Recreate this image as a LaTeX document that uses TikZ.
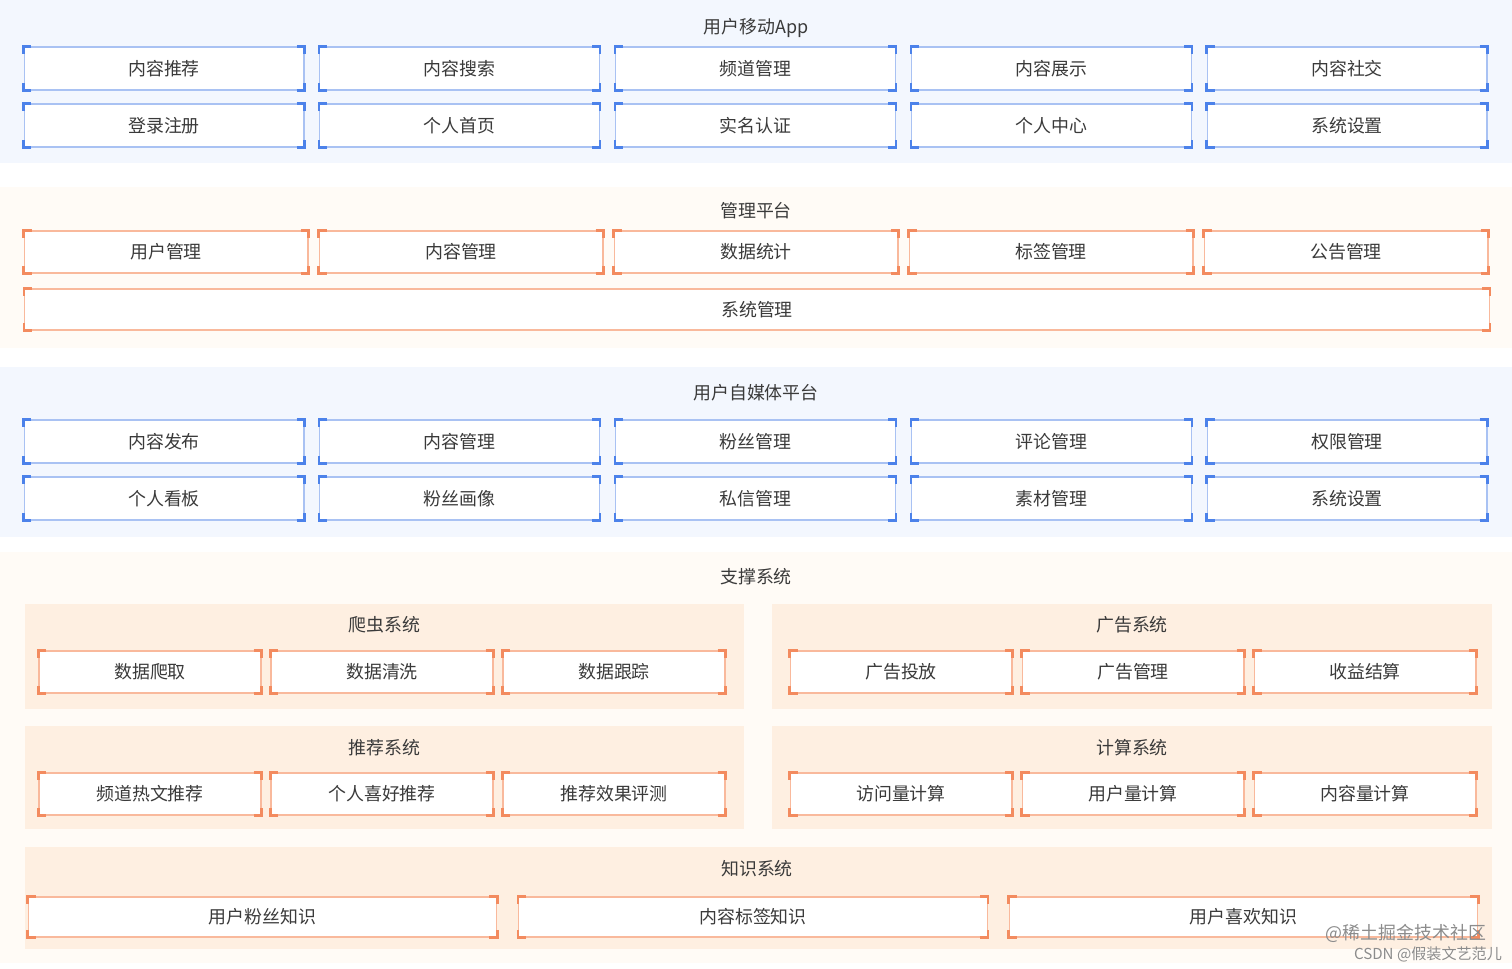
\documentclass[tikz,border=0pt]{standalone}
\usepackage{fontspec}
\setmainfont{Noto Sans CJK SC}
\usetikzlibrary{calc}

\definecolor{blaabg}{HTML}{F3F7FE}
\definecolor{kremebg}{HTML}{FFFBF6}
\definecolor{panelbg}{HTML}{FEEFE1}
\definecolor{blaakant}{HTML}{A9C2F3}
\definecolor{blaahjorne}{HTML}{4C82EA}
\definecolor{oransjekant}{HTML}{F9B99C}
\definecolor{oransjehjorne}{HTML}{F38B5F}
\definecolor{tekst}{HTML}{3A3A3A}

% Hjorner paa en boks: #1 = node, #2 = farge
\newcommand{\hjorner}[2]{%
  \draw[#2, line width=1.2pt] ([xshift=0.16cm]#1.north west) -- (#1.north west) -- ([yshift=-0.16cm]#1.north west);
  \draw[#2, line width=1.2pt] ([xshift=-0.16cm]#1.north east) -- (#1.north east) -- ([yshift=-0.16cm]#1.north east);
  \draw[#2, line width=1.2pt] ([xshift=0.16cm]#1.south west) -- (#1.south west) -- ([yshift=0.16cm]#1.south west);
  \draw[#2, line width=1.2pt] ([xshift=-0.16cm]#1.south east) -- (#1.south east) -- ([yshift=0.16cm]#1.south east);
}

\begin{document}
\begin{tikzpicture}[x=0.02cm, y=-0.02cm]

% Stiler
\tikzstyle{tittel} = [text=tekst, text height=0.95em, text depth=0.2em, font=\fontsize{10.2pt}{12pt}\selectfont]
\tikzstyle{bboks}  = [rectangle, draw=blaakant, line width=0.6pt, fill=white, text=tekst, text height=0.95em, text depth=0.2em, minimum width=5.6cm, minimum height=0.86cm, inner sep=0pt, font=\fontsize{10.2pt}{12pt}\selectfont]
\tikzstyle{oboks}  = [bboks, draw=oransjekant, minimum width=5.68cm, minimum height=0.84cm]
\tikzstyle{sboks}  = [oboks, minimum width=4.44cm]
\tikzstyle{kboks}  = [oboks, minimum width=9.38cm, minimum height=0.8cm]

\useasboundingbox (0,0) rectangle (1512,969);

	% Brukerapp
	\fill[blaabg] (0,0) rectangle (1512,163);
	\node[tittel] (app_tittel) at (756,27) {用户移动App};
	\foreach \navn [count=\i from 0] in {内容推荐,内容搜索,频道管理,内容展示,内容社交} {
		\node[bboks] (app1\i) at (164+295.75*\i,68.5) {\navn};
		\hjorner{app1\i}{blaahjorne}
	}
	\foreach \navn [count=\i from 0] in {登录注册,个人首页,实名认证,个人中心,系统设置} {
		\node[bboks] (app2\i) at (164+295.75*\i,125.5) {\navn};
		\hjorner{app2\i}{blaahjorne}
	}

	% Adminplattform
	\fill[kremebg] (0,187) rectangle (1512,348);
	\node[tittel] (admin_tittel) at (756,211) {管理平台};
	\foreach \navn [count=\i from 0] in {用户管理,内容管理,数据统计,标签管理,公告管理} {
		\node[oboks] (admin\i) at (166+295*\i,252) {\navn};
		\hjorner{admin\i}{oransjehjorne}
	}
	\node[oboks, minimum width=29.32cm, minimum height=0.82cm] (system) at (757,309.5) {系统管理};
	\hjorner{system}{oransjehjorne}

	% Selvmedia
	\fill[blaabg] (0,367) rectangle (1512,537);
	\node[tittel] (media_tittel) at (756,393) {用户自媒体平台};
	\foreach \navn [count=\i from 0] in {内容发布,内容管理,粉丝管理,评论管理,权限管理} {
		\node[bboks] (media1\i) at (164+295.75*\i,441.5) {\navn};
		\hjorner{media1\i}{blaahjorne}
	}
	\foreach \navn [count=\i from 0] in {个人看板,粉丝画像,私信管理,素材管理,系统设置} {
		\node[bboks] (media2\i) at (164+295.75*\i,498.5) {\navn};
		\hjorner{media2\i}{blaahjorne}
	}

	% Stottesystem
	\fill[kremebg] (0,552) rectangle (1512,963);
	\node[tittel] (stotte_tittel) at (756,577) {支撑系统};
	\fill[panelbg] (25,604) rectangle (744,709);
	\fill[panelbg] (772,604) rectangle (1492,709);
	\fill[panelbg] (25,726) rectangle (744,829);
	\fill[panelbg] (772,726) rectangle (1492,829);
	\fill[panelbg] (25,847) rectangle (1492,949);

	\node[tittel] (crawl_tittel) at (384.5,625) {爬虫系统};
	\foreach \navn [count=\i from 0] in {数据爬取,数据清洗,数据跟踪} {
		\node[sboks] (crawl\i) at (150+232*\i,672) {\navn};
		\hjorner{crawl\i}{oransjehjorne}
	}
	\node[tittel] (ad_tittel) at (1132,625) {广告系统};
	\foreach \navn [count=\i from 0] in {广告投放,广告管理,收益结算} {
		\node[sboks] (ad\i) at (901+232*\i,672) {\navn};
		\hjorner{ad\i}{oransjehjorne}
	}
	\node[tittel] (rec_tittel) at (384.5,748) {推荐系统};
	\foreach \navn [count=\i from 0] in {频道热文推荐,个人喜好推荐,推荐效果评测} {
		\node[sboks] (rec\i) at (150+232*\i,794) {\navn};
		\hjorner{rec\i}{oransjehjorne}
	}
	\node[tittel] (calc_tittel) at (1132,748) {计算系统};
	\foreach \navn [count=\i from 0] in {访问量计算,用户量计算,内容量计算} {
		\node[sboks] (calc\i) at (901+232*\i,794) {\navn};
		\hjorner{calc\i}{oransjehjorne}
	}
	\node[tittel] (know_tittel) at (757,869) {知识系统};
	\foreach \navn [count=\i from 0] in {用户粉丝知识,内容标签知识,用户喜欢知识} {
		\node[kboks] (know\i) at (262.5+490.5*\i,917) {\navn};
		\hjorner{know\i}{oransjehjorne}
	}

	% Vannmerke
	\node[text=black!45, font=\fontsize{10.2pt}{12pt}\selectfont] (merke1) at (1406,933) {@稀土掘金技术社区};
	\node[text=black!45, font=\fontsize{8.6pt}{10pt}\selectfont] (merke2) at (1428,954) {CSDN @假装文艺范儿};

\end{tikzpicture}
\end{document}
